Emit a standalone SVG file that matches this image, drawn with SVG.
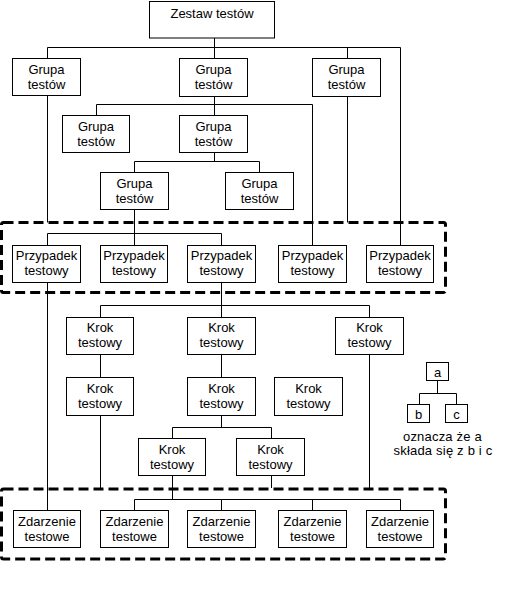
<svg xmlns="http://www.w3.org/2000/svg" width="508" height="594" viewBox="0 0 508 594">
<style>
  .b { fill: #fff; stroke: #000; stroke-width: 1; }
  .t { font-family: "Liberation Sans", Arial, sans-serif; font-size: 13px; fill: #000; text-anchor: middle; }
  .c { fill: none; stroke: #000; stroke-width: 1; }
  .d { fill: none; stroke: #000; stroke-width: 3; stroke-dasharray: 10 5; }
</style>
<rect width="508" height="594" fill="#fff"/>

<g id="groups">
  <rect class="d" x="1.5" y="222.5" width="444" height="70" rx="2"/>
  <rect class="d" x="1.5" y="489" width="444" height="70" rx="2"/>
</g>

<g id="connectors">
  <path class="c" d="M214.5 38 V47.5 M47.5 47.5 H400.5 M47.5 47.5 V58.5 M214.5 47.5 V58.5 M347.5 47.5 V58.5 M400.5 47.5 V245.5"/>
  <path class="c" d="M47.5 95.5 V222.5 M347.5 96.5 V222.5"/>
  <path class="c" d="M214.5 96.5 V104.5 M96.5 104.5 H312.5 M96.5 104.5 V115.5 M214.5 104.5 V115.5 M312.5 104.5 V245.5"/>
  <path class="c" d="M214.5 152.5 V161.5 M134.5 161.5 H259.5 M134.5 161.5 V172.5 M259.5 161.5 V172.5"/>
  <path class="c" d="M134.5 209.5 V245.5"/>
  <path class="c" d="M47.5 233.5 H221.5 M47.5 233.5 V245.5 M221.5 233.5 V245.5"/>
  <path class="c" d="M221.5 282.5 V305.5 M100.5 305.5 H369.5 M100.5 305.5 V317.5 M221.5 305.5 V317.5 M369.5 305.5 V317.5"/>
  <path class="c" d="M47.5 282.5 V510.5"/>
  <path class="c" d="M100.5 354.5 V377.5 M221.5 354.5 V377.5 M369.5 354.5 V488"/>
  <path class="c" d="M100.5 415.5 V488"/>
  <path class="c" d="M221.5 415.5 V427.5 M172.5 427.5 H271.5 M172.5 427.5 V438.5 M271.5 427.5 V438.5"/>
  <path class="c" d="M271.5 475.5 V488"/>
  <path class="c" d="M172.5 475.5 V499.5 M134.5 499.5 H400.5 M134.5 499.5 V510.5 M221.5 499.5 V510.5 M312.5 499.5 V510.5 M400.5 499.5 V510.5"/>
  <path class="c" d="M437.5 380.5 V393.5 M419.5 393.5 H456.5 M419.5 393.5 V404.5 M456.5 393.5 V404.5"/>
</g>

<g id="zestaw"><rect class="b" x="149.5" y="1.5" width="125" height="36.5"/><text class="t" x="212" y="17.5">Zestaw testów</text></g>

<g id="grupa1"><rect class="b" x="12.5" y="58.5" width="68" height="37"/><text class="t" x="46.5" y="74">Grupa</text><text class="t" x="46.5" y="89">testów</text></g>
<g id="grupa2"><rect class="b" x="179.5" y="58.5" width="68" height="38"/><text class="t" x="213.5" y="74">Grupa</text><text class="t" x="213.5" y="89">testów</text></g>
<g id="grupa3"><rect class="b" x="312.5" y="58.5" width="68" height="38"/><text class="t" x="346.5" y="74">Grupa</text><text class="t" x="346.5" y="89">testów</text></g>
<g id="grupa4"><rect class="b" x="62.5" y="115.5" width="67" height="37"/><text class="t" x="96" y="131">Grupa</text><text class="t" x="96" y="146">testów</text></g>
<g id="grupa5"><rect class="b" x="179.5" y="115.5" width="68" height="37"/><text class="t" x="213.5" y="131">Grupa</text><text class="t" x="213.5" y="146">testów</text></g>
<g id="grupa6"><rect class="b" x="100.5" y="172.5" width="68" height="37"/><text class="t" x="134.5" y="188">Grupa</text><text class="t" x="134.5" y="203">testów</text></g>
<g id="grupa7"><rect class="b" x="225.5" y="172.5" width="68" height="37"/><text class="t" x="259.5" y="188">Grupa</text><text class="t" x="259.5" y="203">testów</text></g>

<g id="przypadek1"><rect class="b" x="12.5" y="245.5" width="68" height="37"/><text class="t" x="46.5" y="260">Przypadek</text><text class="t" x="46.5" y="275">testowy</text></g>
<g id="przypadek2"><rect class="b" x="100.5" y="245.5" width="67" height="37"/><text class="t" x="134" y="260">Przypadek</text><text class="t" x="134" y="275">testowy</text></g>
<g id="przypadek3"><rect class="b" x="187.5" y="245.5" width="68" height="37"/><text class="t" x="221.5" y="260">Przypadek</text><text class="t" x="221.5" y="275">testowy</text></g>
<g id="przypadek4"><rect class="b" x="278.5" y="245.5" width="68" height="37"/><text class="t" x="312.5" y="260">Przypadek</text><text class="t" x="312.5" y="275">testowy</text></g>
<g id="przypadek5"><rect class="b" x="366.5" y="245.5" width="67" height="37"/><text class="t" x="400" y="260">Przypadek</text><text class="t" x="400" y="275">testowy</text></g>

<g id="krok1"><rect class="b" x="66.5" y="317.5" width="67" height="37"/><text class="t" x="100" y="332">Krok</text><text class="t" x="100" y="347">testowy</text></g>
<g id="krok2"><rect class="b" x="187.5" y="317.5" width="68" height="37"/><text class="t" x="221.5" y="332">Krok</text><text class="t" x="221.5" y="347">testowy</text></g>
<g id="krok3"><rect class="b" x="335.5" y="317.5" width="68" height="37"/><text class="t" x="369.5" y="332">Krok</text><text class="t" x="369.5" y="347">testowy</text></g>
<g id="krok4"><rect class="b" x="66.5" y="377.5" width="67" height="38"/><text class="t" x="100" y="393">Krok</text><text class="t" x="100" y="408">testowy</text></g>
<g id="krok5"><rect class="b" x="187.5" y="377.5" width="68" height="38"/><text class="t" x="221.5" y="393">Krok</text><text class="t" x="221.5" y="408">testowy</text></g>
<g id="krok6"><rect class="b" x="274.5" y="377.5" width="68" height="38"/><text class="t" x="308.5" y="393">Krok</text><text class="t" x="308.5" y="408">testowy</text></g>
<g id="krok7"><rect class="b" x="138.5" y="438.5" width="67" height="37"/><text class="t" x="172" y="454">Krok</text><text class="t" x="172" y="469">testowy</text></g>
<g id="krok8"><rect class="b" x="236.5" y="438.5" width="68" height="37"/><text class="t" x="270.5" y="454">Krok</text><text class="t" x="270.5" y="469">testowy</text></g>

<g id="zdarzenie1"><rect class="b" x="13.5" y="510.5" width="67" height="37"/><text class="t" x="47" y="526">Zdarzenie</text><text class="t" x="47" y="541">testowe</text></g>
<g id="zdarzenie2"><rect class="b" x="100.5" y="510.5" width="68" height="37"/><text class="t" x="134.5" y="526">Zdarzenie</text><text class="t" x="134.5" y="541">testowe</text></g>
<g id="zdarzenie3"><rect class="b" x="187.5" y="510.5" width="68" height="37"/><text class="t" x="221.5" y="526">Zdarzenie</text><text class="t" x="221.5" y="541">testowe</text></g>
<g id="zdarzenie4"><rect class="b" x="278.5" y="510.5" width="68" height="37"/><text class="t" x="312.5" y="526">Zdarzenie</text><text class="t" x="312.5" y="541">testowe</text></g>
<g id="zdarzenie5"><rect class="b" x="366.5" y="510.5" width="67" height="37"/><text class="t" x="400" y="526">Zdarzenie</text><text class="t" x="400" y="541">testowe</text></g>

<g id="legend-a"><rect class="b" x="426.5" y="362.5" width="22" height="18"/><text class="t" x="437.5" y="377">a</text></g>
<g id="legend-b"><rect class="b" x="407.5" y="404.5" width="22" height="18"/><text class="t" x="418.5" y="419">b</text></g>
<g id="legend-c"><rect class="b" x="445.5" y="404.5" width="22" height="18"/><text class="t" x="456.5" y="419">c</text></g>
<g id="legend-text"><text class="t" x="442.5" y="441" letter-spacing="0.2">oznacza że a</text><text class="t" x="443" y="455" letter-spacing="0.2">składa się z b i c</text></g>
</svg>
